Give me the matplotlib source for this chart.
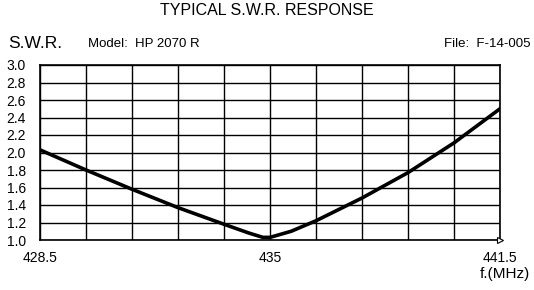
import numpy as np
import matplotlib.pyplot as plt

# --- DATA ---
freq = [428.5, 429.8, 431.1, 432.4, 433.7, 434.4, 434.8, 435.0, 435.6, 436.3, 437.6, 438.9, 440.2, 441.5]
swr = [2.03, 1.80, 1.58, 1.37, 1.18, 1.08, 1.03, 1.03, 1.10, 1.22, 1.48, 1.77, 2.11, 2.50]

x_ticks = [428.5, 435, 441.5]
x_tick_labels = ["428.5", "435", "441.5"]
y_ticks = [1.0, 1.2, 1.4, 1.6, 1.8, 2.0, 2.2, 2.4, 2.6, 2.8, 3.0]

plt.rcParams['font.family'] = ['Liberation Sans', 'DejaVu Sans']

fig = plt.figure(figsize=(5.34, 2.90), dpi=100)
ax = fig.add_axes([40 / 534, 50 / 290, 460 / 534, 175 / 290])

# grid: 10 columns, 10 rows
for gx in np.linspace(428.5, 441.5, 11):
    ax.axvline(gx, color='black', linewidth=1.0, zorder=1)
for gy in y_ticks:
    ax.axhline(gy, color='black', linewidth=1.0, zorder=1)

ax.plot(freq, swr, color='black', linewidth=2.6, solid_capstyle='round',
        solid_joinstyle='round', zorder=3)
ax.plot([441.5], [1.0], marker='>', markersize=4, markerfacecolor='white',
        markeredgecolor='black', markeredgewidth=0.8, clip_on=False, zorder=4)

ax.set_xlim(428.5, 441.5)
ax.set_ylim(1.0, 3.0)
ax.set_yticks(y_ticks)
ax.set_yticklabels([f"{v:.1f}" for v in y_ticks], fontsize=10)
ax.set_xticks(x_ticks)
ax.set_xticklabels(x_tick_labels, fontsize=10)
ax.tick_params(length=0, pad=8)
ax.tick_params(axis='y', pad=10)
for s in ax.spines.values():
    s.set_linewidth(1.2)

fig.text(0.5, 1 - 3 / 290, "TYPICAL S.W.R. RESPONSE", ha='center', va='top', fontsize=11.5)
fig.text(8 / 534, 1 - 44 / 290, "S.W.R.", ha='left', va='center', fontsize=12.5)
fig.text(88 / 534, 1 - 44 / 290, "Model:  HP 2070 R", ha='left', va='center', fontsize=9.5)
fig.text(530 / 534, 1 - 44 / 290, "File:  F-14-005", ha='right', va='center', fontsize=9.5)
fig.text(530 / 534, 1 - 274 / 290, "f.(MHz)", ha='right', va='center', fontsize=11)

fig.savefig("out.png", dpi=100)
